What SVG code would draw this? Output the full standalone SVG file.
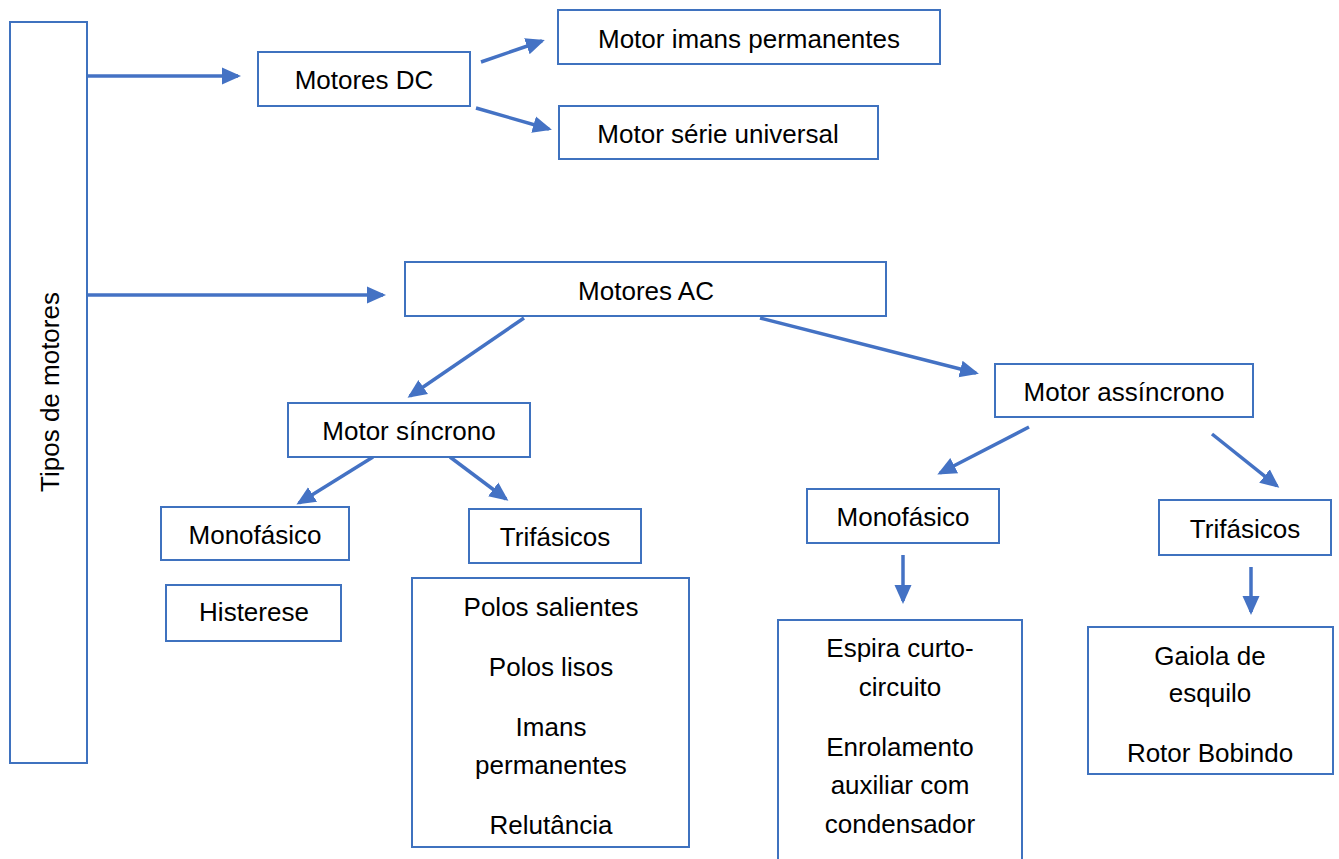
<svg xmlns="http://www.w3.org/2000/svg" width="1339" height="859" viewBox="0 0 1339 859">
<defs>
<style>
.box{fill:#fff;stroke:#3F72BF;stroke-width:2}
.t{font-family:"Liberation Sans",Arial,sans-serif;font-size:26px;fill:#000;text-anchor:middle;dominant-baseline:central}
.c{stroke:#4472C4;stroke-width:3.5;fill:none;marker-end:url(#ah)}
</style>
<marker id="ah" markerUnits="userSpaceOnUse" markerWidth="20" markerHeight="20" viewBox="0 0 20 20" refX="16" refY="10" orient="auto">
<path d="M0,1.5 L19,10 L0,18.5 z" fill="#4472C4"/>
</marker>
</defs>
<rect width="1339" height="859" fill="#fff"/>
<g id="connectors">
<line class="c" x1="88" y1="76" x2="238" y2="76"/>
<line class="c" x1="481" y1="62" x2="542" y2="41"/>
<line class="c" x1="476" y1="108" x2="549" y2="129"/>
<line class="c" x1="88" y1="295" x2="383" y2="295"/>
<line class="c" x1="524" y1="318" x2="410" y2="396"/>
<line class="c" x1="760" y1="318" x2="976" y2="373"/>
<line class="c" x1="373" y1="457" x2="299" y2="503"/>
<line class="c" x1="450" y1="457" x2="506" y2="499"/>
<line class="c" x1="1029" y1="427" x2="940" y2="473"/>
<line class="c" x1="1212" y1="434" x2="1277" y2="486"/>
<line class="c" x1="903" y1="555" x2="903" y2="601"/>
<line class="c" x1="1251" y1="567" x2="1251" y2="612"/>
</g>
<g id="tipos">
<rect class="box" x="10" y="22" width="77" height="741"/>
<text class="t" transform="translate(50,392) rotate(-90)">Tipos de motores</text>
</g>
<g id="motores-dc">
<rect class="box" x="258" y="52" width="212" height="54"/>
<text class="t" x="364" y="80">Motores DC</text>
</g>
<g id="motor-imans">
<rect class="box" x="558" y="10" width="382" height="54"/>
<text class="t" x="749" y="39">Motor imans permanentes</text>
</g>
<g id="motor-serie">
<rect class="box" x="559" y="106" width="319" height="53"/>
<text class="t" x="718" y="134">Motor série universal</text>
</g>
<g id="motores-ac">
<rect class="box" x="405" y="262" width="481" height="54"/>
<text class="t" x="646" y="291">Motores AC</text>
</g>
<g id="motor-sincrono">
<rect class="box" x="288" y="403" width="242" height="54"/>
<text class="t" x="409" y="431">Motor síncrono</text>
</g>
<g id="motor-assincrono">
<rect class="box" x="995" y="364" width="258" height="53"/>
<text class="t" x="1124" y="392">Motor assíncrono</text>
</g>
<g id="mono-sinc">
<rect class="box" x="161" y="507" width="188" height="53"/>
<text class="t" x="255" y="535">Monofásico</text>
</g>
<g id="tri-sinc">
<rect class="box" x="469" y="509" width="172" height="54"/>
<text class="t" x="555" y="537">Trifásicos</text>
</g>
<g id="histerese">
<rect class="box" x="166" y="585" width="175" height="56"/>
<text class="t" x="254" y="612">Histerese</text>
</g>
<g id="tri-sinc-list">
<rect class="box" x="412" y="578" width="277" height="269"/>
<text class="t" x="551" y="607">Polos salientes</text>
<text class="t" x="551" y="667">Polos lisos</text>
<text class="t" x="551" y="727">Imans</text>
<text class="t" x="551" y="765">permanentes</text>
<text class="t" x="551" y="825">Relutância</text>
</g>
<g id="mono-assinc">
<rect class="box" x="807" y="489" width="192" height="54"/>
<text class="t" x="903" y="517">Monofásico</text>
</g>
<g id="tri-assinc">
<rect class="box" x="1159" y="500" width="172" height="55"/>
<text class="t" x="1245" y="529">Trifásicos</text>
</g>
<g id="mono-assinc-list">
<rect class="box" x="778" y="620" width="244" height="250"/>
<text class="t" x="900" y="648">Espira curto-</text>
<text class="t" x="900" y="687">circuito</text>
<text class="t" x="900" y="747">Enrolamento</text>
<text class="t" x="900" y="785">auxiliar com</text>
<text class="t" x="900" y="824">condensador</text>
</g>
<g id="tri-assinc-list">
<rect class="box" x="1088" y="627" width="245" height="147"/>
<text class="t" x="1210" y="656">Gaiola de</text>
<text class="t" x="1210" y="693">esquilo</text>
<text class="t" x="1210" y="753">Rotor Bobindo</text>
</g>
</svg>
